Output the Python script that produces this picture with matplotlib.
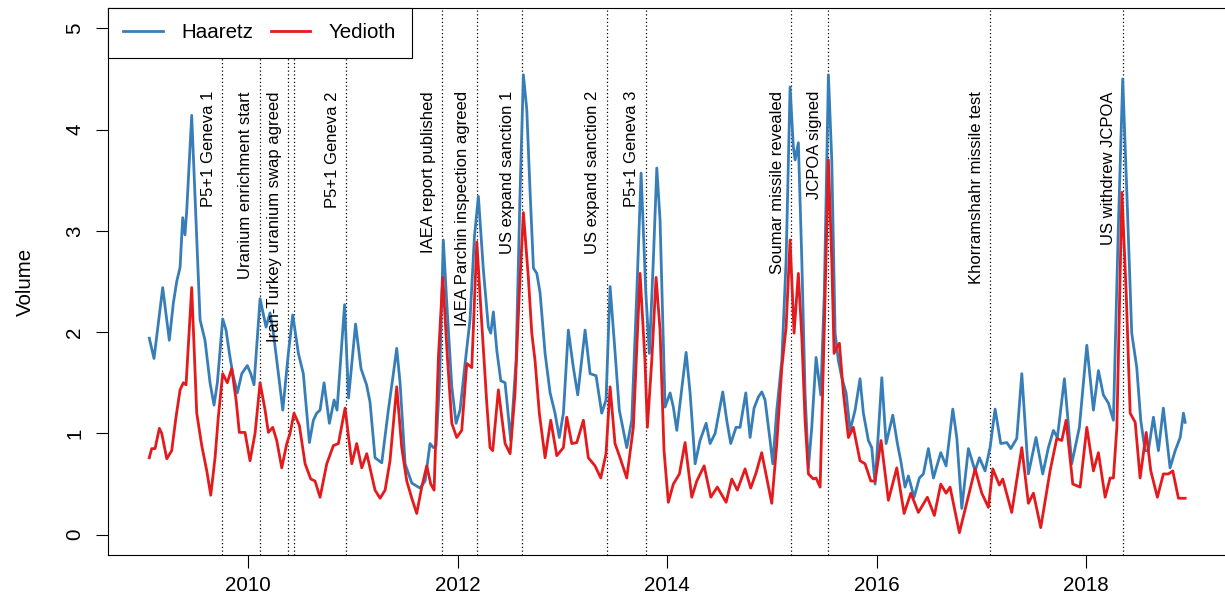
import matplotlib
matplotlib.use("Agg")
import matplotlib.pyplot as plt

# values (decimal year, volume)
haaretz_year = [
    2009.054, 2009.099, 2009.182, 2009.245, 2009.284, 2009.316, 2009.348, 2009.373, 2009.395, 2009.412,
    2009.459, 2009.500, 2009.539, 2009.586, 2009.634, 2009.672, 2009.704, 2009.755, 2009.787, 2009.819,
    2009.851, 2009.895, 2009.937, 2009.990, 2010.023, 2010.054, 2010.112, 2010.169, 2010.207, 2010.239,
    2010.287, 2010.329, 2010.382, 2010.424, 2010.478, 2010.525, 2010.583, 2010.621, 2010.653, 2010.685,
    2010.723, 2010.774, 2010.819, 2010.847, 2010.919, 2010.957, 2011.024, 2011.076, 2011.129, 2011.162,
    2011.210, 2011.274, 2011.337, 2011.385, 2011.417, 2011.449, 2011.497, 2011.561, 2011.640, 2011.688,
    2011.735, 2011.767, 2011.793, 2011.826, 2011.862, 2011.895, 2011.943, 2011.984, 2012.022, 2012.070,
    2012.117, 2012.159, 2012.197, 2012.245, 2012.292, 2012.315, 2012.340, 2012.373, 2012.411, 2012.452,
    2012.506, 2012.557, 2012.595, 2012.627, 2012.659, 2012.691, 2012.723, 2012.755, 2012.786, 2012.834,
    2012.882, 2012.929, 2012.970, 2013.009, 2013.056, 2013.104, 2013.146, 2013.216, 2013.264, 2013.321,
    2013.375, 2013.416, 2013.455, 2013.496, 2013.543, 2013.614, 2013.662, 2013.710, 2013.751, 2013.796,
    2013.830, 2013.868, 2013.901, 2013.932, 2013.980, 2014.028, 2014.059, 2014.092, 2014.123, 2014.181,
    2014.219, 2014.267, 2014.314, 2014.372, 2014.410, 2014.458, 2014.531, 2014.569, 2014.607, 2014.658,
    2014.696, 2014.751, 2014.792, 2014.830, 2014.871, 2014.904, 2014.935, 2014.983, 2015.009, 2015.047,
    2015.095, 2015.136, 2015.174, 2015.205, 2015.222, 2015.253, 2015.286, 2015.317, 2015.349, 2015.381,
    2015.422, 2015.467, 2015.501, 2015.540, 2015.572, 2015.604, 2015.635, 2015.668, 2015.709, 2015.747,
    2015.795, 2015.842, 2015.874, 2015.922, 2015.954, 2015.986, 2016.050, 2016.091, 2016.155, 2016.199,
    2016.231, 2016.272, 2016.304, 2016.358, 2016.409, 2016.447, 2016.495, 2016.543, 2016.613, 2016.664,
    2016.728, 2016.766, 2016.814, 2016.877, 2016.941, 2016.982, 2017.036, 2017.084, 2017.132, 2017.186,
    2017.244, 2017.282, 2017.339, 2017.387, 2017.450, 2017.523, 2017.587, 2017.641, 2017.689, 2017.727,
    2017.794, 2017.864, 2017.937, 2018.008, 2018.071, 2018.119, 2018.166, 2018.214, 2018.262, 2018.309,
    2018.351, 2018.390, 2018.437, 2018.485, 2018.523, 2018.564, 2018.596, 2018.644, 2018.692, 2018.739,
    2018.803, 2018.852, 2018.900, 2018.931, 2018.947,
]
haaretz_vol = [
    1.94, 1.74, 2.44, 1.92, 2.29, 2.50, 2.64, 3.13, 2.96, 3.21,
    4.14, 3.11, 2.12, 1.92, 1.50, 1.28, 1.50, 2.13, 2.02, 1.79,
    1.59, 1.40, 1.59, 1.67, 1.59, 1.48, 2.33, 2.05, 2.19, 1.99,
    1.59, 1.23, 1.79, 2.17, 1.79, 1.59, 0.91, 1.13, 1.20, 1.23,
    1.50, 1.10, 1.33, 1.23, 2.27, 1.35, 2.08, 1.64, 1.48, 1.31,
    0.76, 0.71, 1.23, 1.59, 1.84, 1.50, 0.70, 0.51, 0.46, 0.53,
    0.90, 0.86, 0.88, 1.52, 2.91, 2.29, 1.46, 1.10, 1.23, 1.69,
    2.12, 2.94, 3.34, 2.61, 2.05, 1.99, 2.20, 1.82, 1.52, 1.50,
    0.93, 1.72, 3.38, 4.54, 4.20, 3.38, 2.63, 2.58, 2.39, 1.79,
    1.40, 1.20, 0.96, 1.20, 2.02, 1.65, 1.38, 2.02, 1.59, 1.57,
    1.20, 1.33, 2.45, 1.89, 1.23, 0.86, 1.13, 2.39, 3.57, 2.39,
    1.79, 2.71, 3.62, 3.11, 1.26, 1.40, 1.26, 1.03, 1.30, 1.80,
    1.40, 0.70, 0.93, 1.10, 0.90, 1.00, 1.41, 1.13, 0.90, 1.06,
    1.06, 1.40, 0.96, 1.25, 1.36, 1.41, 1.33, 0.93, 0.70, 1.23,
    1.72, 2.71, 4.42, 3.83, 3.70, 3.87, 2.71, 1.40, 0.66, 1.06,
    1.75, 1.38, 2.39, 4.54, 3.70, 1.99, 1.72, 1.55, 1.40, 1.03,
    1.23, 1.54, 1.20, 0.93, 0.86, 0.50, 1.55, 0.90, 1.18, 0.90,
    0.73, 0.47, 0.58, 0.37, 0.56, 0.60, 0.85, 0.56, 0.81, 0.68,
    1.24, 0.96, 0.26, 0.85, 0.63, 0.76, 0.63, 0.86, 1.24, 0.90,
    0.91, 0.85, 0.95, 1.59, 0.60, 0.96, 0.60, 0.86, 1.03, 0.96,
    1.54, 0.70, 1.06, 1.87, 1.23, 1.62, 1.38, 1.30, 1.13, 3.04,
    4.50, 3.38, 1.99, 1.65, 1.13, 0.83, 0.83, 1.16, 0.83, 1.25,
    0.66, 0.83, 0.96, 1.20, 1.11,
]

yedioth_year = [
    2009.054, 2009.077, 2009.109, 2009.150, 2009.173, 2009.221, 2009.268, 2009.309, 2009.348, 2009.379,
    2009.405, 2009.459, 2009.507, 2009.555, 2009.603, 2009.641, 2009.682, 2009.713, 2009.755, 2009.799,
    2009.841, 2009.883, 2009.914, 2009.968, 2010.016, 2010.064, 2010.112, 2010.160, 2010.191, 2010.233,
    2010.271, 2010.319, 2010.367, 2010.398, 2010.436, 2010.487, 2010.542, 2010.596, 2010.637, 2010.685,
    2010.749, 2010.812, 2010.860, 2010.924, 2010.988, 2011.035, 2011.083, 2011.131, 2011.210, 2011.258,
    2011.306, 2011.353, 2011.417, 2011.465, 2011.513, 2011.561, 2011.608, 2011.656, 2011.704, 2011.742,
    2011.774, 2011.815, 2011.857, 2011.901, 2011.943, 2011.990, 2012.038, 2012.086, 2012.134, 2012.182,
    2012.229, 2012.277, 2012.308, 2012.334, 2012.388, 2012.452, 2012.500, 2012.547, 2012.588, 2012.627,
    2012.674, 2012.707, 2012.738, 2012.779, 2012.834, 2012.888, 2012.946, 2013.009, 2013.041, 2013.089,
    2013.137, 2013.200, 2013.247, 2013.311, 2013.366, 2013.416, 2013.455, 2013.502, 2013.550, 2013.614,
    2013.677, 2013.741, 2013.788, 2013.811, 2013.853, 2013.894, 2013.932, 2013.970, 2014.011, 2014.059,
    2014.117, 2014.171, 2014.235, 2014.283, 2014.353, 2014.417, 2014.479, 2014.563, 2014.617, 2014.670,
    2014.744, 2014.798, 2014.849, 2014.903, 2014.957, 2014.999, 2015.047, 2015.095, 2015.136, 2015.174,
    2015.212, 2015.253, 2015.286, 2015.317, 2015.349, 2015.397, 2015.422, 2015.461, 2015.501, 2015.540,
    2015.572, 2015.594, 2015.620, 2015.645, 2015.683, 2015.731, 2015.778, 2015.842, 2015.890, 2015.945,
    2015.986, 2016.043, 2016.113, 2016.193, 2016.263, 2016.327, 2016.399, 2016.485, 2016.552, 2016.613,
    2016.664, 2016.702, 2016.791, 2016.867, 2016.941, 2017.005, 2017.068, 2017.110, 2017.173, 2017.205,
    2017.291, 2017.387, 2017.450, 2017.498, 2017.568, 2017.657, 2017.721, 2017.769, 2017.810, 2017.874,
    2017.944, 2018.008, 2018.071, 2018.119, 2018.183, 2018.231, 2018.262, 2018.295, 2018.343, 2018.384,
    2018.422, 2018.470, 2018.517, 2018.575, 2018.619, 2018.682, 2018.739, 2018.787, 2018.829, 2018.883,
    2018.947,
]
yedioth_vol = [
    0.76, 0.85, 0.85, 1.05, 1.00, 0.75, 0.83, 1.16, 1.43, 1.50,
    1.48, 2.44, 1.20, 0.88, 0.63, 0.39, 0.76, 1.16, 1.59, 1.50,
    1.64, 1.33, 1.01, 1.01, 0.73, 1.00, 1.50, 1.23, 1.01, 1.06,
    0.93, 0.66, 0.90, 1.00, 1.20, 1.08, 0.70, 0.55, 0.53, 0.37,
    0.70, 0.88, 0.90, 1.25, 0.70, 0.90, 0.66, 0.80, 0.44, 0.36,
    0.44, 0.73, 1.46, 0.86, 0.53, 0.36, 0.21, 0.47, 0.68, 0.50,
    0.44, 1.75, 2.54, 1.75, 1.10, 0.96, 1.03, 1.69, 1.65, 2.89,
    2.09, 1.30, 0.86, 0.83, 1.43, 0.90, 0.80, 1.40, 2.39, 3.18,
    2.54, 1.99, 1.72, 1.20, 0.76, 1.13, 0.78, 0.86, 1.16, 0.90,
    0.91, 1.13, 0.76, 0.68, 0.56, 0.80, 1.46, 0.90, 0.76, 0.56,
    1.06, 2.58, 1.72, 1.06, 1.72, 2.54, 2.02, 0.83, 0.32, 0.50,
    0.60, 0.91, 0.37, 0.53, 0.68, 0.37, 0.47, 0.32, 0.55, 0.44,
    0.65, 0.46, 0.61, 0.81, 0.53, 0.31, 0.90, 1.65, 2.05, 2.91,
    1.99, 2.58, 1.95, 1.13, 0.60, 0.55, 0.56, 0.47, 2.05, 3.70,
    2.71, 1.79, 1.85, 1.89, 1.40, 0.96, 1.06, 0.73, 0.70, 0.53,
    0.53, 0.93, 0.34, 0.66, 0.21, 0.41, 0.22, 0.37, 0.19, 0.50,
    0.41, 0.47, 0.02, 0.34, 0.65, 0.41, 0.27, 0.65, 0.49, 0.55,
    0.22, 0.86, 0.31, 0.41, 0.07, 0.63, 0.95, 0.93, 1.13, 0.50,
    0.47, 1.06, 0.63, 0.81, 0.37, 0.56, 0.56, 1.06, 3.38, 2.39,
    1.20, 1.11, 0.56, 1.01, 0.63, 0.37, 0.60, 0.60, 0.63, 0.36,
    0.36,
]

event_years = [2009.749, 2010.108, 2010.379, 2010.436, 2010.933, 2011.853, 2012.181,
               2012.611, 2013.423, 2013.796, 2015.183, 2015.537, 2017.084, 2018.351]
event_labels = ["P5+1 Geneva 1", "Uranium enrichment start", "Iran-Turkey uranium swap agreed", "",
                "P5+1 Geneva 2", "IAEA report published", "IAEA Parchin inspection agreed",
                "US expand sanction 1", "US expand sanction 2", "P5+1 Geneva 3",
                "Soumar missile revealed", "JCPOA signed", "Khorramshahr missile test",
                "US withdrew JCPOA"]

year_ticks = [2010, 2012, 2014, 2016, 2018]
vol_ticks = [0, 1, 2, 3, 4, 5]

plt.rcParams["font.family"] = ["Liberation Sans", "DejaVu Sans"]

fig = plt.figure(figsize=(12.25, 6.1), dpi=100)
ax = fig.add_axes([0.0882, 0.0902, 0.9143, 0.8967])

ax.plot(haaretz_year, haaretz_vol, color="#377EB8", lw=2.0, label="Haaretz", solid_joinstyle="round")
ax.plot(yedioth_year, yedioth_vol, color="#E41A1C", lw=2.0, label="Yedioth", solid_joinstyle="round")

for yr, lab in zip(event_years, event_labels):
    ax.axvline(yr, color="black", lw=0.9, linestyle=(0, (1, 2)), zorder=1)
    if lab:
        ax.annotate(lab, xy=(yr, 4.38), xytext=(-10, 0), textcoords="offset points",
                    rotation=90, ha="center", va="top", fontsize=12)

ax.set_xlim(2008.66, 2019.357)
ax.set_ylim(-0.2, 5.2)
ax.set_xticks(year_ticks)
ax.set_yticks(vol_ticks)
ax.tick_params(axis="both", direction="out", length=9, width=0.8, labelsize=14.8)
ax.tick_params(axis="x", pad=6)
ax.tick_params(axis="y", pad=8)
for t in ax.get_yticklabels():
    t.set_rotation(90)
    t.set_va("center")
ax.set_ylabel("Volume", fontsize=14.8, labelpad=22)
for s in ax.spines.values():
    s.set_linewidth(0.8)

leg = ax.legend(loc="upper left", bbox_to_anchor=(0, 1), ncol=2, fontsize=14.8,
                borderaxespad=0, fancybox=False, framealpha=1, edgecolor="black",
                handlelength=1.9, handletextpad=0.9, columnspacing=0.9, borderpad=0.75)
leg.get_frame().set_linewidth(0.8)

fig.savefig("out.png", dpi=100)
